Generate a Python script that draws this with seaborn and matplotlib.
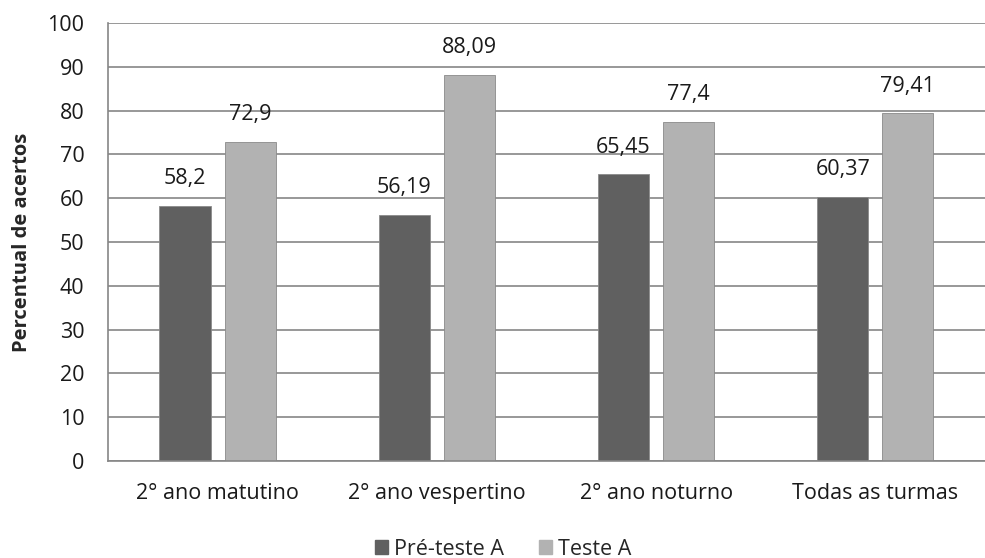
import seaborn as sns
import matplotlib.pyplot as plt
import pandas as pd

categories = ["2° ano matutino", "2° ano vespertino", "2° ano noturno", "Todas as turmas"]
pre_teste = [58.2, 56.19, 65.45, 60.37]
teste = [72.9, 88.09, 77.4, 79.41]
series = ["Pré-teste A", "Teste A"]
colors = ["#606060", "#b2b2b2"]

df = pd.DataFrame({
    "turma": categories * 2,
    "valor": pre_teste + teste,
    "serie": [series[0]] * 4 + [series[1]] * 4,
})

sns.set_style("white")
plt.rcParams["font.family"] = ["Open Sans", "DejaVu Sans"]

fig = plt.figure(figsize=(9.85, 5.58), dpi=100)
ax = fig.add_axes([0.1096, 0.1738, 0.8904, 0.785])

sns.barplot(ax=ax, data=df, x="turma", y="valor", hue="serie", palette=colors,
            width=0.594, gap=0.215, edgecolor="#8a8a8a", linewidth=0.6, legend=False)

for cont in ax.containers:
    labels = [("%g" % v).replace(".", ",") for v in cont.datavalues]
    ax.bar_label(cont, labels=labels, padding=12, fontsize=15.5, color="#1a1a1a")

ax.set_ylim(0, 100)
ax.set_xlim(-0.5, 3.5)
ax.set_yticks(range(0, 101, 10))
ax.yaxis.grid(True, color="#868686", linewidth=1.2)
ax.set_axisbelow(True)
for s in ["top", "right"]:
    ax.spines[s].set_visible(False)
ax.spines["left"].set_color("#868686")
ax.spines["bottom"].set_color("#868686")
ax.spines["left"].set_linewidth(1.2)
ax.spines["bottom"].set_linewidth(1.2)
ax.tick_params(axis="both", length=0, labelsize=15.5, colors="#1a1a1a")
ax.tick_params(axis="x", pad=16)
ax.tick_params(axis="y", pad=17)
ax.set_xlabel("")
ax.set_ylabel("Percentual de acertos", fontsize=14.5, fontweight="bold")
ax.yaxis.set_label_coords(-0.0866, 0.5)

handles = [plt.Rectangle((0, 0), 1, 1, color=c) for c in colors]
fig.legend(handles, series, loc="center", bbox_to_anchor=(0.511, 0.016), ncol=2,
           frameon=False, fontsize=15.5, handlelength=0.6, handleheight=0.6,
           handletextpad=0.3, columnspacing=1.6, borderpad=0)

fig.savefig("out.png", dpi=100)
